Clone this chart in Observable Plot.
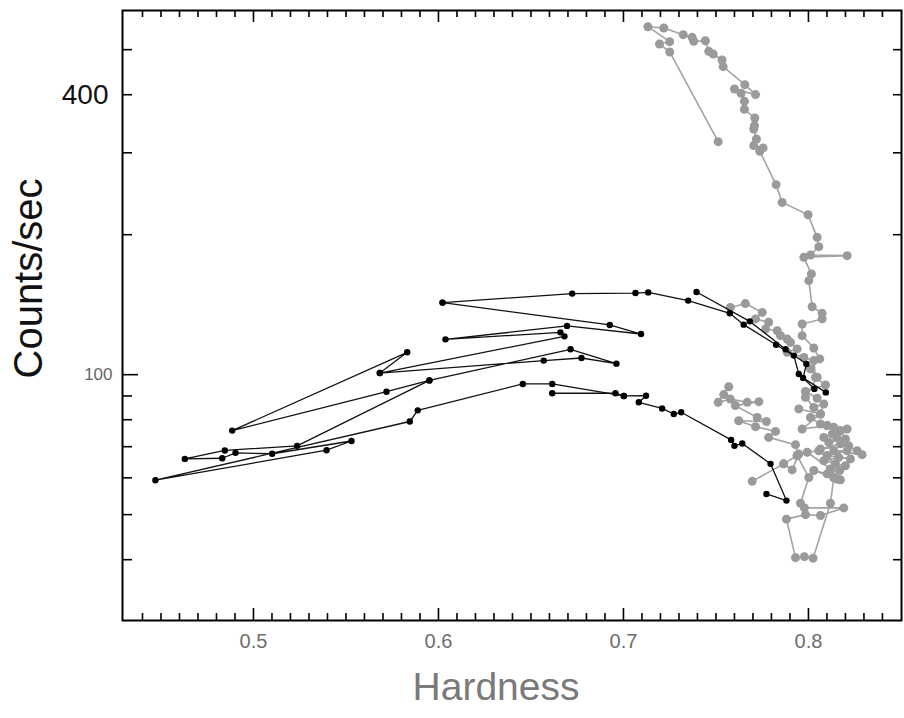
<!DOCTYPE html>
<html><head><meta charset="utf-8">
<script src="https://cdn.jsdelivr.net/npm/d3@7"></script>
<script src="https://cdn.jsdelivr.net/npm/@observablehq/plot@0.6"></script>
<style>body{margin:0;background:#fff;} #chart svg{display:block;}</style>
</head><body><div id="chart"></div>
<script>
// ---- data: [hardness, counts/sec] ----
const blackTrackA = [[0.6022,142.9],[0.6926,127.9],[0.7095,122.3],[0.6695,127.3],[0.6038,119.1],[0.6659,123.3],[0.6681,120.9],[0.5683,100.8],[0.5831,111.7],[0.4885,75.8],[0.5719,91.9],[0.5951,97.2],[0.6714,113.4],[0.6962,105.6],[0.6773,108.6],[0.6569,107.2],[0.5683,100.8]];
const blackTrackB = [[0.6022,142.9],[0.6723,149.4],[0.7065,149.8],[0.7134,150.3],[0.7350,144.3],[0.7575,135.5],[0.7650,128.1],[0.7825,116.0],[0.7921,109.9],[0.7948,100.3],[0.8032,93.2]];
const blackTrackC = [[0.7395,150.6],[0.7683,130.2],[0.7876,113.4],[0.7989,105.4],[0.7971,98.4],[0.8094,91.6]];
const blackTrackD = [[0.5951,97.2],[0.5236,70.3],[0.4845,68.7],[0.4629,65.9],[0.4831,66.1],[0.4903,67.9],[0.5101,67.6],[0.5530,72.0],[0.5395,68.8],[0.4470,59.3],[0.5845,79.3],[0.5888,83.8],[0.6456,95.5],[0.6615,95.5],[0.7002,90.0],[0.7122,90.1],[0.7083,87.2],[0.7209,84.6],[0.7272,82.3],[0.7312,83.0],[0.7582,72.4],[0.7600,70.3],[0.7642,71.1],[0.7795,64.3],[0.7881,53.6],[0.7773,55.4]];
const blackTrackE = [[0.6615,91.2],[0.6957,91.2],[0.7002,90.0]];

const grayTrackA = [[0.7512,317],[0.7250,494.3],[0.7195,514.2],[0.7250,520.2],[0.7132,560.2],[0.7218,556.6],[0.7323,538.6],[0.7371,531.4],[0.7380,521],[0.7443,522.6],[0.7461,495.8],[0.7485,489.4],[0.7533,475.1],[0.7539,459.6],[0.7656,420.4],[0.7714,400.2],[0.7600,411.5],[0.7636,402.7],[0.7654,387.1],[0.7654,372.1],[0.7710,356.5],[0.7708,343.2],[0.7704,337.6],[0.7719,321.3],[0.7704,310.9],[0.7755,307.4],[0.7737,302.2],[0.7825,256.2],[0.7858,234.7],[0.7998,220.8],[0.8047,197.4],[0.8056,188.5],[0.8011,180.9],[0.8209,180.3],[0.7975,178.8],[0.8016,164.7],[0.8002,159.3],[0.8020,140.0],[0.8074,135.5],[0.8074,131.8],[0.7966,128.5],[0.7966,121.3],[0.8029,114.1],[0.8061,108.1],[0.8011,102.9],[0.8047,98.7],[0.7984,89.4],[0.8029,85.0],[0.8083,86.5],[0.8065,82.3],[0.8011,80.9],[0.8065,78.3],[0.8101,77.7],[0.8137,77.1]];
const grayTrackB = [[0.7578,139.5],[0.7659,142.2],[0.7750,136.1],[0.7714,131.8],[0.7785,129.6],[0.7768,125.4],[0.7831,124.3],[0.7849,121.3],[0.7885,119.3],[0.7903,117.3],[0.7939,113.6],[0.7885,111.7],[0.7975,108.9],[0.8029,107.2],[0.8038,98.7],[0.8092,95.0],[0.7984,92.0],[0.8047,89.0]];
const grayTrackC = [[0.7569,94.2],[0.7542,90.6],[0.7512,87.2],[0.7578,88.6],[0.7669,87.2],[0.7732,87.5],[0.7605,85.8],[0.7723,80.9],[0.7773,79.3],[0.7623,79.6],[0.7714,77.3],[0.7822,75.5],[0.7785,73.3],[0.7930,70.7],[0.7948,67.5],[0.7912,62.4],[0.7866,64.3],[0.7696,58.96],[0.7866,64.3],[0.7939,67.0]];
const grayTrackD = [[0.7939,67.0],[0.8002,60.1],[0.7957,52.9],[0.7978,51.7],[0.8191,51.7],[0.8065,49.8],[0.7984,50.0],[0.7881,48.9],[0.7930,40.4],[0.7978,40.6],[0.8025,40.3],[0.8119,52.9],[0.8137,60.1],[0.8173,59.4],[0.8155,59.6]];
const grayTrackE = [[0.7948,84.4],[0.8065,82.3],[0.7966,76.4],[0.8101,77.7],[0.8209,76.4],[0.8128,74.5],[0.8083,73.3],[0.8173,75.8],[0.8200,72.7],[0.8110,71.5],[0.8155,73.3],[0.8218,70.3],[0.8065,69.2],[0.8173,71.0],[0.8263,68.6],[0.8290,67.3],[0.8137,68.6],[0.8209,68.6],[0.8101,67.0],[0.8227,65.9],[0.8164,66.4],[0.8083,65.3],[0.8200,63.7],[0.8146,64.3],[0.8056,68.6],[0.7993,68.1],[0.8119,62.7],[0.8169,62.2],[0.8101,61.2],[0.8029,62.2],[0.8137,60.1]];

const xMajorTicks = [0.5, 0.6, 0.7, 0.8];
const xMinorTicks = [0.44,0.45,0.46,0.47,0.48,0.49,0.51,0.52,0.53,0.54,0.55,0.56,0.57,0.58,0.59,0.61,0.62,0.63,0.64,0.65,0.66,0.67,0.68,0.69,0.71,0.72,0.73,0.74,0.75,0.76,0.77,0.78,0.79,0.81,0.82,0.83,0.84];
const yMinorTicks = [40, 50, 60, 70, 80, 90, 200, 300, 400, 500];
const yBigLabelTicks = [400];
const ySmallLabelTicks = [100];
const xTitle = "Hardness";
const yTitle = "Counts/sec";

// ---- build tables ----
const rows = (track, id) => track.map(([h, c]) => ({hardness: h, counts: c, track: id}));
const black = [...rows(blackTrackA,"A"), ...rows(blackTrackB,"B"), ...rows(blackTrackC,"C"), ...rows(blackTrackD,"D"), ...rows(blackTrackE,"E")];
const gray = [...rows(grayTrackA,"A"), ...rows(grayTrackB,"B"), ...rows(grayTrackC,"C"), ...rows(grayTrackD,"D"), ...rows(grayTrackE,"E")];

const W = 904, H = 718, mL = 122, mR = 3, mT = 10, mB = 98;
const pw = W - mL - mR, ph = H - mT - mB;
const tick = {stroke: "#000", strokeWidth: 1.6};

const chart = Plot.plot({
  width: W, height: H,
  marginLeft: mL, marginRight: mR, marginTop: mT, marginBottom: mB,
  style: {fontFamily: "'Liberation Sans', Arial, sans-serif", background: "#fff", overflow: "visible"},
  x: {domain: [0.4292, 0.8503], label: null},
  y: {type: "log", domain: [29.6, 607], label: null},
  marks: [
    Plot.line(gray, {x: "hardness", y: "counts", z: "track", stroke: "#a3a3a3", strokeWidth: 1.6}),
    Plot.dot(gray, {x: "hardness", y: "counts", r: 4.5, fill: "#9a9a9a", stroke: "none"}),
    Plot.line(black, {x: "hardness", y: "counts", z: "track", stroke: "#111", strokeWidth: 1.3}),
    Plot.dot(black, {x: "hardness", y: "counts", r: 3.2, fill: "#000", stroke: "none"}),
    // inward ticks: bottom & top
    Plot.tickX(xMinorTicks, {x: d => d, insetTop: ph - 7, ...tick}),
    Plot.tickX(xMajorTicks, {x: d => d, insetTop: ph - 12, ...tick}),
    Plot.tickX(xMinorTicks, {x: d => d, insetBottom: ph - 7, ...tick}),
    Plot.tickX(xMajorTicks, {x: d => d, insetBottom: ph - 12, ...tick}),
    // inward ticks: left & right
    Plot.tickY(yMinorTicks, {y: d => d, insetRight: pw - 10, ...tick}),
    Plot.tickY(ySmallLabelTicks, {y: d => d, insetRight: pw - 16, ...tick}),
    Plot.tickY(yMinorTicks, {y: d => d, insetLeft: pw - 8, ...tick}),
    Plot.tickY(ySmallLabelTicks, {y: d => d, insetLeft: pw - 15, ...tick}),
    Plot.frame({stroke: "#000", strokeWidth: 2}),
    Plot.axisX(xMajorTicks, {anchor: "bottom", tickSize: 0, tickPadding: 13, fontSize: 20, color: "#6e6e6e", label: null, tickFormat: d3.format(".1f")}),
    Plot.axisY(yBigLabelTicks, {anchor: "left", tickSize: 0, tickPadding: 14, fontSize: 28, color: "#111", label: null}),
    Plot.axisY(ySmallLabelTicks, {anchor: "left", tickSize: 0, tickPadding: 10, fontSize: 17, color: "#666", label: null}),
    Plot.text([yTitle], {text: d => d, frameAnchor: "left", dx: -93, dy: 63, rotate: -90, fontSize: 40, fill: "#111"}),
    Plot.text([xTitle], {text: d => d, frameAnchor: "bottom", dx: -16, dy: 79, fontSize: 39, fill: "#7a7a7a"})
  ]
});
document.getElementById("chart").appendChild(chart);
</script>
</body></html>
